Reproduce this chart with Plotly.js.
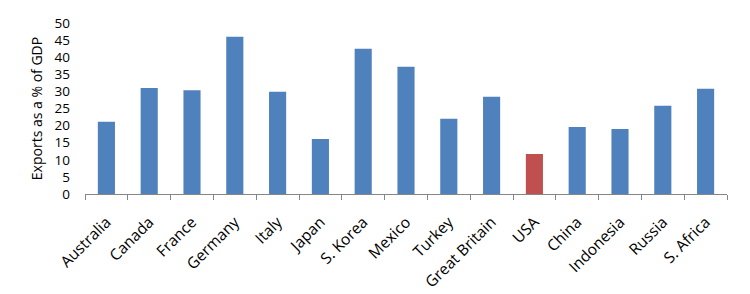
<!DOCTYPE html>
<html>
<head>
<meta charset="utf-8">
<script src="https://cdn.plot.ly/plotly-3.0.1.min.js"></script>
<style>html,body{margin:0;padding:0;background:#fff;}#chart{width:750px;height:294px;}</style>
</head>
<body>
<div id="chart"></div>
<script>
const countries = ["Australia","Canada","France","Germany","Italy","Japan","S. Korea","Mexico","Turkey","Great Britain","USA","China","Indonesia","Russia","S. Africa"];
const exportsPct = [21.1, 31.0, 30.3, 46.0, 29.9, 16.1, 42.5, 37.2, 22.0, 28.4, 11.7, 19.6, 19.0, 25.8, 30.8];
const highlight = "USA";
const yTicks = [0,5,10,15,20,25,30,35,40,45,50];

const colors = countries.map(c => c === highlight ? "#C0504D" : "#4F81BD");

Plotly.newPlot("chart", [{
  type: "bar",
  x: countries,
  y: exportsPct,
  marker: {color: colors},
  hoverinfo: "none"
}], {
  width: 750, height: 294,
  margin: {l: 85, r: 23, t: 23, b: 100},
  paper_bgcolor: "#fff", plot_bgcolor: "#fff",
  bargap: 0.6,
  showlegend: false,
  font: {family: "Open Sans, sans-serif", color: "#000", size: 14},
  xaxis: {
    type: "category",
    tickangle: -45,
    showline: true, linecolor: "#868686", linewidth: 1,
    ticks: "outside", tickson: "boundaries", ticklen: 5, tickcolor: "#868686",
    tickfont: {size: 15.5},
    ticklabelstandoff: 12,
    showgrid: false, zeroline: false
  },
  yaxis: {
    range: [0, 50],
    tickvals: yTicks,
    ticks: "", showline: false, showgrid: false, zeroline: false,
    tickfont: {size: 13.5},
    ticklabelstandoff: 14,
    title: {text: "Exports as a % of GDP", font: {size: 14}, standoff: 8}
  }
}, {staticPlot: true});
</script>
</body>
</html>
